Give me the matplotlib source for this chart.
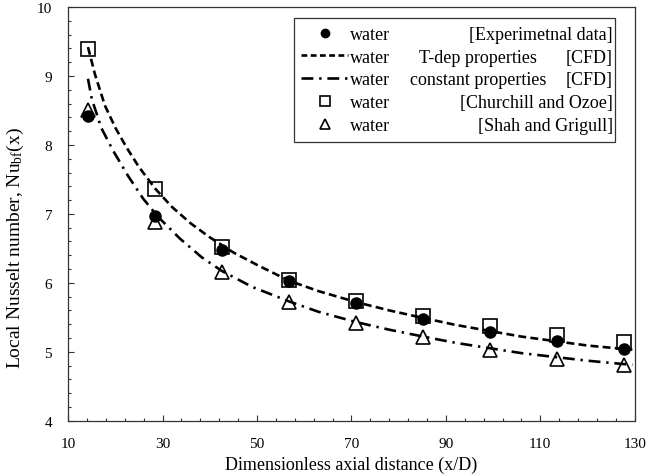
import numpy as np
import matplotlib
matplotlib.use("Agg")
import matplotlib.pyplot as plt
from matplotlib.lines import Line2D

plt.rcParams.update({"font.family": "Liberation Serif", "font.size": 13,
                     "mathtext.fontset": "custom",
                     "mathtext.rm": "Liberation Serif",
                     "mathtext.it": "Liberation Serif:italic"})

# axial stations (x/D) of the measurements / correlations
x_pts = [14.2, 28.4, 42.6, 56.8, 71.0, 85.2, 99.4, 113.6, 127.8]
nu_exp = [8.42, 6.97, 6.47, 6.02, 5.71, 5.48, 5.29, 5.16, 5.04]
nu_churchill = [9.39, 7.36, 6.52, 6.04, 5.74, 5.52, 5.37, 5.24, 5.14]
nu_shah = [8.50, 6.88, 6.16, 5.72, 5.41, 5.21, 5.03, 4.90, 4.81]

# CFD, temperature dependent properties
x_tdep = [14.2, 15.7, 17.8, 20.0, 22.4, 25.0, 28.4, 32.0, 36.0, 40.0, 45.0,
          50.0, 56.8, 63.0, 71.0, 78.0, 85.2, 92.0, 99.4, 106.0, 113.6,
          120.0, 127.8, 129.5]
nu_tdep = [9.42, 9.02, 8.57, 8.25, 7.96, 7.68, 7.37, 7.10, 6.86, 6.66, 6.44,
           6.26, 6.03, 5.88, 5.72, 5.60, 5.49, 5.39, 5.30, 5.22, 5.15,
           5.09, 5.04, 5.03]

# CFD, constant properties
x_const = [14.2, 15.0, 17.0, 19.5, 22.7, 25.9, 29.0, 33.7, 38.3, 42.6, 49.0,
           56.8, 63.0, 71.0, 78.0, 85.2, 92.0, 99.4, 106.0, 113.6, 120.0,
           127.8, 129.5]
nu_const = [8.96, 8.67, 8.25, 7.92, 7.55, 7.22, 6.96, 6.64, 6.37, 6.17, 5.94,
            5.73, 5.58, 5.43, 5.32, 5.22, 5.13, 5.05, 4.98, 4.92, 4.87,
            4.82, 4.81]

fig = plt.figure(figsize=(6.49, 4.77), dpi=100)
ax = fig.add_axes([0.105, 0.116, 0.873, 0.867])

lw = 1.9
ax.plot(x_tdep, nu_tdep, color="k", lw=lw, dashes=(3, 1.6), zorder=2)
ax.plot(x_const, nu_const, color="k", lw=lw, dashes=(4.5, 2.2, 0.9, 2.2),
        zorder=2)
ax.plot(x_pts, nu_churchill, ls="none", marker="s", ms=10.5, mfc="none",
        mec="k", mew=1.2, zorder=3)
ax.plot(x_pts, nu_shah, ls="none", marker="^", ms=10.5, mfc="none",
        mec="k", mew=1.2, zorder=3)
ax.plot(x_pts, nu_exp, ls="none", marker="o", ms=8, color="k", zorder=4)

ax.set_xlim(10, 130)
ax.set_ylim(4, 10)
ax.set_xticks(np.arange(10, 131, 20))
ax.set_xticks(np.arange(10, 131, 4), minor=True)
ax.set_yticks(np.arange(4, 10.1, 1))
ax.set_yticks(np.arange(4, 10.01, 0.2), minor=True)
ax.tick_params(which="both", direction="in", color="#333", width=0.8,
               labelsize=11)
ax.tick_params(which="major", length=4.5)
ax.tick_params(which="minor", length=2.5)
ax.tick_params(axis="x", which="major", pad=12)
ax.tick_params(axis="y", which="major", pad=11.5)
for sp in ax.spines.values():
    sp.set_edgecolor("#333")
    sp.set_linewidth(0.9)

ax.set_xlabel("Dimensionless axial distance (x/D)", fontsize=13)
ax.set_ylabel(r"Local Nusselt number, Nu$_\mathrm{bf}$(x)", fontsize=14)
ax.xaxis.set_label_coords(0.5, -0.084)
ax.yaxis.set_label_coords(-0.074, 0.42)

# legend: handle + "water", the source text is added as a second column
handles = [
    Line2D([], [], ls="none", marker="o", ms=6, color="k"),
    Line2D([], [], color="k", lw=lw, dashes=(2.2, 1.3)),
    Line2D([], [], color="k", lw=lw, dashes=(4.5, 2.2, 0.9, 2.2)),
    Line2D([], [], ls="none", marker="s", ms=7, mfc="none", mec="k", mew=1.2),
    Line2D([], [], ls="none", marker="^", ms=7, mfc="none", mec="k", mew=1.2),
]
leg = ax.legend(handles, ["water"] * 5, loc="upper left",
                bbox_to_anchor=(0.398, 0.973, 0.567, 0), mode="expand",
                borderaxespad=0, borderpad=0.42, handlelength=2.6,
                handletextpad=0.1, labelspacing=0.32, fancybox=False,
                edgecolor="#333", framealpha=1)
leg.get_frame().set_linewidth(0.9)

middle = [None, "T-dep properties", "constant properties", None, None]
right = ["[Experimetnal data]", "[CFD]", "[CFD]",
         "[Churchill and Ozoe]", "[Shah and Grigull]"]

fig.canvas.draw()
inv = ax.transAxes.inverted()
for t, mid, rt in zip(leg.get_texts(), middle, right):
    bb = t.get_window_extent()
    yc = inv.transform((0, (bb.y0 + bb.y1) / 2))[1]
    ax.text(0.961, yc, rt, ha="right", va="center", transform=ax.transAxes,
            zorder=6)
    if mid:
        ax.text(0.724, yc, mid, ha="center", va="center",
                transform=ax.transAxes, zorder=6)

fig.savefig("out.png", dpi=100)
